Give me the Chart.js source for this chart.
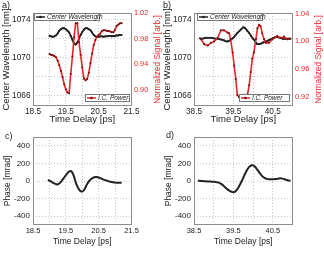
<!DOCTYPE html>
<html>
<head>
<meta charset="utf-8">
<script src="https://cdn.jsdelivr.net/npm/chart.js@4.4.0/dist/chart.umd.min.js"></script>
<style>
  html, body { margin:0; padding:0; background:#fff; width:324px; height:257px; overflow:hidden; }
  canvas { position:absolute; }
</style>
</head>
<body>
<canvas id="ca" width="163" height="130" style="left:0;top:0"></canvas>
<canvas id="cb" width="163" height="130" style="left:161px;top:0"></canvas>
<canvas id="cc" width="163" height="129" style="left:0;top:128px"></canvas>
<canvas id="cd" width="163" height="129" style="left:161px;top:128px"></canvas>
<script>
// colours / font
const RED = '#e8262b';
const INK = '#222';
const FONT = '"Liberation Sans", Arial, sans-serif';

// --- a) scan around 20 ps ---
const aTime = [19.00,19.05,19.10,19.15,19.20,19.25,19.30,19.35,19.40,19.45,19.50,19.55,19.60,19.65,19.70,19.75,19.80,19.85,19.90,19.95,
  20.00,20.05,20.10,20.15,20.20,20.25,20.30,20.35,20.40,20.45,20.50,20.55,20.60,20.65,20.70,20.75,20.80,20.85,20.90,20.95,
  21.00,21.05,21.10,21.15,21.20];
const aWavelength = [1072.30,1072.25,1072.20,1072.25,1072.35,1072.55,1072.85,1073.00,1073.10,1073.10,1073.00,1072.85,1072.65,1072.30,1071.90,1071.50,1071.40,1071.60,1072.00,1072.40,
  1072.70,1072.95,1073.10,1073.10,1073.00,1072.90,1072.65,1072.40,1072.25,1072.20,1072.20,1072.25,1072.25,1072.20,1072.25,1072.25,1072.30,1072.30,1072.25,1072.30,
  1072.30,1072.35,1072.35,1072.40,1072.40];
const aPower = [0.956,0.955,0.954,0.953,0.951,0.946,0.939,0.930,0.920,0.909,0.901,0.896,0.895,0.925,0.952,0.982,1.004,1.004,0.975,0.955,
  0.935,0.918,0.915,0.917,0.927,0.942,0.957,0.970,0.978,0.983,0.986,0.988,0.992,0.993,0.993,0.992,0.992,0.991,0.990,0.990,
  0.994,1.000,1.002,1.004,1.004];

// --- b) scan around 40 ps ---
const bTimeWl = [38.65,38.70,38.75,38.80,38.85,38.90,38.95,39.00,39.05,39.10,39.15,39.20,39.25,39.30,39.35,39.40,39.45,39.50,39.55,39.60,
  39.65,39.70,39.75,39.80,39.85,39.90,39.95,40.00,40.05,40.10,40.15,40.20,40.25,40.30,40.35,40.40,40.45,40.50,40.55,40.60,
  40.65,40.70,40.75,40.80,40.85,40.90,40.95];
const bWavelength = [1072.05,1072.00,1072.05,1072.10,1072.10,1072.10,1072.10,1072.05,1072.00,1072.00,1071.95,1071.90,1071.85,1071.75,1071.70,1071.80,1071.95,1072.10,1072.35,1072.60,
  1072.80,1073.00,1073.20,1073.10,1072.85,1072.60,1072.30,1072.00,1071.75,1071.45,1071.45,1071.50,1071.60,1071.70,1071.75,1071.85,1071.95,1072.05,1072.15,1072.20,
  1072.15,1072.10,1072.00,1072.00,1072.00,1072.00,1072.00];
const bTimePow = [38.68,38.76,38.85,38.93,39.01,39.10,39.18,39.26,39.35,39.39,39.43,39.48,39.52,39.56,39.60,39.64,39.69,39.73,39.77,39.81,
  39.86,39.90,39.94,39.98,40.02,40.07,40.11,40.15,40.19,40.23,40.28,40.32,40.40,40.49,40.53,40.61,40.70,40.78,40.87,40.92];
const bPower = [1.003,0.996,0.994,0.998,1.000,1.005,1.016,1.016,1.013,1.012,1.003,0.984,0.965,0.946,0.923,0.920,0.923,0.918,0.923,0.920,
  0.924,0.937,0.956,0.975,0.984,1.003,1.019,1.024,1.022,1.012,1.003,0.998,0.998,1.003,1.005,1.008,1.005,1.007,1.003,1.004];

// --- c) / d) phase ---
const cTime = [18.95,19.00,19.05,19.10,19.15,19.20,19.25,19.30,19.35,19.40,19.45,19.50,19.55,19.60,19.65,19.70,19.75,19.80,19.85,19.90,
  19.95,20.00,20.05,20.10,20.15,20.20,20.25,20.30,20.35,20.40,20.45,20.50,20.55,20.60,20.65,20.70,20.75,20.80,20.85,20.90,
  20.95,21.00,21.05,21.10,21.15,21.20];
const cPhase = [10,5,-5,-18,-28,-36,-38,-28,-10,15,40,65,90,108,114,95,50,-15,-60,-95,
  -115,-120,-105,-70,-35,-5,15,30,40,45,45,40,32,24,16,10,4,-2,-7,-12,
  -15,-18,-19,-20,-20,-20];
const dTime = [38.60,38.65,38.70,38.75,38.80,38.85,38.90,38.95,39.00,39.05,39.10,39.15,39.20,39.25,39.30,39.35,39.40,39.45,39.50,39.55,
  39.60,39.65,39.70,39.75,39.80,39.85,39.90,39.95,40.00,40.05,40.10,40.15,40.20,40.25,40.30,40.35,40.40,40.45,40.50,40.55,
  40.60,40.65,40.70,40.75,40.80,40.85,40.90,40.95];
const dPhase = [3,2,0,-2,-4,-5,-6,-8,-9,-11,-16,-24,-36,-55,-76,-95,-110,-122,-128,-118,
  -92,-55,-12,35,85,128,160,176,178,162,132,100,72,48,32,24,20,19,20,22,
  24,28,30,27,20,12,6,2];

// ticks
const wlTicks = [1066,1068,1070,1072,1074];
const wlLabels = [1066,1070,1074];
const aSigTicks = [0.90,0.94,0.98,1.02];
const bSigTicks = [0.92,0.96,1.00,1.04];
const phaseTicks = [-400,-200,0,200,400];
const aTimeTicks = [18.5,19,19.5,20,20.5,21,21.5];
const aTimeLabels = [18.5,19.5,20.5,21.5];
const bTimeTicks = [38.5,39,39.5,40,40.5,41];
const bTimeLabels = [38.5,39.5,40.5];

/* ---------- helpers ---------- */
const pts = (xs, ys) => xs.map((x,i) => ({x:x, y:ys[i]}));
const fixTicks = list => scale => { scale.ticks = list.map(v => ({value:v})); };
const GRID = {color:'#c6c6c6', lineWidth:1, drawTicks:false};
const BORDER = {display:false, dash:[1,2]};

function timeAxis(min, max, ticks, labels, h, tickSize, titleSize, titlePad){
  return {
    type:'linear', position:'bottom', min:min, max:max,
    afterBuildTicks: fixTicks(ticks),
    afterFit: s => { s.height = h; },
    ticks:{autoSkip:false, maxRotation:0, padding:1, color:INK, font:{family:FONT, size:tickSize},
      callback: v => labels.includes(v) ? v.toFixed(1) : ''},
    grid: GRID, border: BORDER,
    title:{display:true, text:'Time Delay [ps]', color:INK, font:{family:FONT, size:titleSize}, padding:{top:0, bottom:titlePad}}
  };
}

// frame, panel letter, inside legends, right-hand title (reads bottom->top)
const decor = {
  id:'decor',
  afterDraw(chart, args, o){
    const ctx = chart.ctx, a = chart.chartArea;
    ctx.save();
    ctx.strokeStyle = '#8c8c8c'; ctx.lineWidth = 1;
    ctx.strokeRect(Math.round(a.left)+0.5, Math.round(a.top)+0.5, Math.round(a.right-a.left)-1, Math.round(a.bottom-a.top)-1);

    ctx.fillStyle = INK; ctx.textBaseline = 'middle'; ctx.textAlign = 'left';
    ctx.font = '9px ' + FONT;
    ctx.fillText(o.label, o.lx, o.ly);

    (o.legends || []).forEach(L => {
      ctx.fillStyle = '#fff'; ctx.fillRect(L.x, L.y, L.w, 8);
      ctx.strokeStyle = '#777'; ctx.lineWidth = 1; ctx.strokeRect(L.x+0.5, L.y+0.5, L.w-1, 7);
      const cy = L.y + 4;
      ctx.strokeStyle = L.color; ctx.lineWidth = 1.5;
      ctx.beginPath(); ctx.moveTo(L.x+2, cy); ctx.lineTo(L.x+11, cy); ctx.stroke();
      ctx.fillStyle = L.dot; ctx.beginPath(); ctx.arc(L.x+6.5, cy, 1.3, 0, Math.PI*2); ctx.fill();
      ctx.fillStyle = INK; ctx.font = 'italic 6.5px ' + FONT;
      ctx.fillText(L.text, L.x+13, cy+0.5);
    });

    if (o.rightTitle){
      ctx.translate(chart.width - 5, (a.top + a.bottom)/2);
      ctx.rotate(-Math.PI/2);
      ctx.textAlign = 'center'; ctx.fillStyle = RED;
      ctx.font = '8.3px ' + FONT;
      ctx.fillText(o.rightTitle, 0, 0);
    }
    ctx.restore();
  }
};

function scanChart(id, opt){
  return new Chart(document.getElementById(id), {
    type:'line',
    data:{datasets:[
      {label:'I.C. Power', data:pts(opt.powT, opt.pow), yAxisID:'y2', borderColor:RED, borderWidth:1.6,
        pointRadius:1, pointBackgroundColor:'#701010', pointBorderWidth:0, tension:0},
      {label:'Center Wavelength', data:pts(opt.wlT, opt.wl), yAxisID:'y', borderColor:INK, borderWidth:1.8,
        pointRadius:1, pointBackgroundColor:INK, pointBorderWidth:0, tension:0}
    ]},
    options:{
      responsive:false, animation:false, devicePixelRatio:1,
      layout:{padding:{top:13, left:0, right:0, bottom:0}},
      plugins:{legend:{display:false}, tooltip:{enabled:false}, decor:opt.decor},
      scales:{
        x: timeAxis(opt.xmin, opt.xmax, opt.xticks, opt.xlabels, 24, 8.3, 9.5, 5),
        y:{position:'left', min:1064.95, max:1074.7,
          afterBuildTicks: fixTicks(wlTicks), afterFit: s => { s.width = 33; },
          ticks:{padding:2.5, color:INK, font:{family:FONT, size:8.3}, callback: v => wlLabels.includes(v) ? String(v) : ''},
          grid: GRID, border: BORDER,
          title:{display:true, text:'Center Wavelength [nm]', color:INK, font:{family:FONT, size:9.5}, padding:{top:1, bottom:0}}},
        y2:{position:'right', min:opt.smin, max:opt.smax,
          afterBuildTicks: fixTicks(opt.sticks), afterFit: s => { s.width = 31.5; },
          ticks:{padding:2.5, color:RED, font:{family:FONT, size:7.3}, callback: v => v.toFixed(2)},
          grid:{display:false, drawTicks:false}, border:{display:false}}
      }
    },
    plugins:[decor]
  });
}

function phaseChart(id, opt){
  return new Chart(document.getElementById(id), {
    type:'line',
    data:{datasets:[
      {label:'Phase', data:pts(opt.t, opt.p), borderColor:INK, borderWidth:2, pointRadius:0, tension:0.4}
    ]},
    options:{
      responsive:false, animation:false, devicePixelRatio:1,
      layout:{padding:{top:9, left:0, right:31.5, bottom:0}},
      plugins:{legend:{display:false}, tooltip:{enabled:false}, decor:opt.decor},
      scales:{
        x: timeAxis(opt.xmin, opt.xmax, opt.xticks, opt.xlabels, 32, 7.5, 8.5, 10),
        y:{position:'left', min:-500, max:500,
          afterBuildTicks: fixTicks(phaseTicks), afterFit: s => { s.width = 33; },
          ticks:{padding:3, color:INK, font:{family:FONT, size:8}},
          grid: GRID, border: BORDER,
          title:{display:true, text:'Phase [mrad]', color:INK, font:{family:FONT, size:8.5}, padding:{top:3, bottom:0}}}
      }
    },
    plugins:[decor]
  });
}

scanChart('ca', {
  powT:aTime, pow:aPower, wlT:aTime, wl:aWavelength,
  xmin:18.5, xmax:21.5, xticks:aTimeTicks, xlabels:aTimeLabels,
  smin:0.875, smax:1.02, sticks:aSigTicks,
  decor:{label:'a)', lx:2, ly:6, rightTitle:'Normalized Signal [arb.]',
    legends:[{x:34, y:13, w:66, color:INK, dot:INK, text:'Center Wavelength'},
             {x:85, y:94, w:45, color:RED, dot:'#701010', text:'I.C. Power'}]}
});
scanChart('cb', {
  powT:bTimePow, pow:bPower, wlT:bTimeWl, wl:bWavelength,
  xmin:38.5, xmax:41.0, xticks:bTimeTicks, xlabels:bTimeLabels,
  smin:0.907, smax:1.041, sticks:bSigTicks,
  decor:{label:'b)', lx:2, ly:6, rightTitle:'Normalized Signal [arb.]',
    legends:[{x:36, y:13, w:66, color:INK, dot:INK, text:'Center Wavelength'},
             {x:78, y:94, w:51, color:RED, dot:'#701010', text:'I.C. Power'}]}
});
phaseChart('cc', {
  t:cTime, p:cPhase, xmin:18.5, xmax:21.5, xticks:aTimeTicks, xlabels:aTimeLabels,
  decor:{label:'c)', lx:5, ly:8.5}
});
phaseChart('cd', {
  t:dTime, p:dPhase, xmin:38.5, xmax:41.0, xticks:bTimeTicks, xlabels:bTimeLabels,
  decor:{label:'d)', lx:5, ly:7.5}
});
</script>
</body>
</html>
